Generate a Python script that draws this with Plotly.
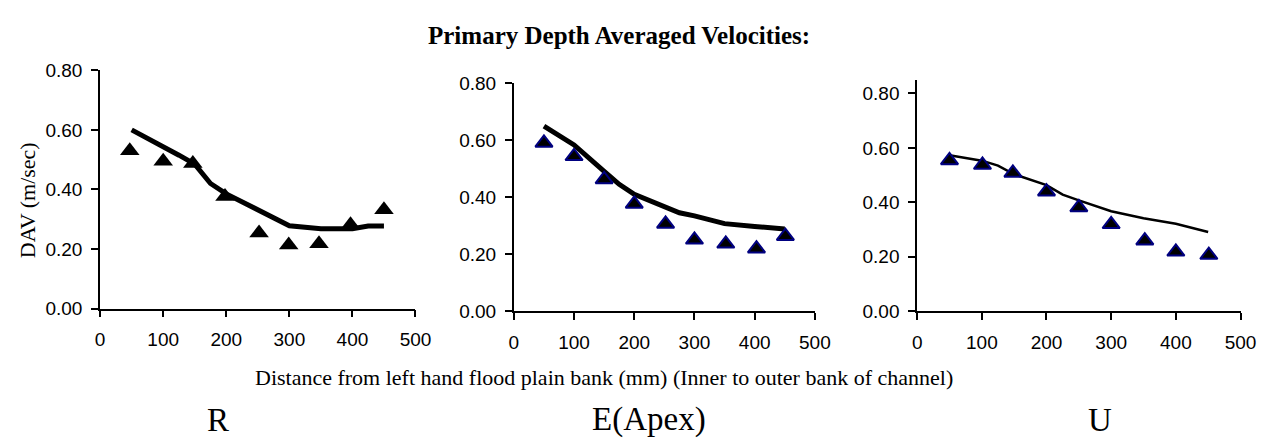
import plotly.graph_objects as go

W, H = 1287, 446

# Panel R
r_line_x = [50, 100, 125, 150, 175, 200, 250, 300, 350, 400, 425, 450]
r_line_y = [0.600, 0.545, 0.515, 0.485, 0.420, 0.385, 0.330, 0.278, 0.268, 0.268, 0.277, 0.277]
r_pts_x = [47, 100, 147, 198, 252, 299, 347, 397, 450]
r_pts_y = [0.530, 0.495, 0.487, 0.376, 0.254, 0.213, 0.218, 0.281, 0.332]

# Panel E(Apex)
e_line_x = [50, 100, 150, 175, 200, 250, 275, 300, 350, 400, 450]
e_line_y = [0.649, 0.583, 0.490, 0.445, 0.410, 0.365, 0.345, 0.334, 0.307, 0.297, 0.288]
e_pts_x = [50, 100, 150, 200, 252, 300, 352, 403, 451]
e_pts_y = [0.590, 0.543, 0.462, 0.376, 0.306, 0.250, 0.236, 0.219, 0.263]

# Panel U
u_line_x = [50, 100, 125, 150, 200, 225, 250, 300, 350, 400, 450]
u_line_y = [0.573, 0.553, 0.535, 0.503, 0.463, 0.428, 0.407, 0.367, 0.341, 0.321, 0.291]
u_pts_x = [50, 101, 148, 200, 250, 300, 352, 400, 451]
u_pts_y = [0.554, 0.537, 0.508, 0.439, 0.381, 0.319, 0.259, 0.218, 0.206]

x_ticks = [0, 100, 200, 300, 400, 500]
y_ticks = [0.0, 0.2, 0.4, 0.6, 0.8]

title_text = "<b>Primary Depth Averaged Velocities:</b>"
xlabel_text = "Distance from left hand flood plain bank (mm) (Inner to outer bank of channel)"
ylabel_text = "DAV (m/sec)"
panel_names = ["R", "E(Apex)", "U"]

SANS = "Liberation Sans, Arial, sans-serif"
SERIF = "Liberation Serif, Times New Roman, serif"


def px_x(p):
    return p / W


def px_y(p):
    return 1 - p / H


fig = go.Figure()

panels = [
    (r_line_x, r_line_y, r_pts_x, r_pts_y, 5, "black", 0, 17, "", ""),
    (e_line_x, e_line_y, e_pts_x, e_pts_y, 5, "#000080", 2, 15, "2", "2"),
    (u_line_x, u_line_y, u_pts_x, u_pts_y, 2.5, "#000080", 2, 15, "3", "3"),
]

for lx, ly, px_, py_, lw, mline, mlw, msz, xa, ya in panels:
    fig.add_trace(go.Scatter(x=lx, y=ly, mode="lines",
                             line=dict(color="black", width=lw),
                             xaxis="x" + xa, yaxis="y" + ya, showlegend=False))
    fig.add_trace(go.Scatter(x=px_, y=py_, mode="markers",
                             marker=dict(symbol="triangle-up", size=msz, color="black",
                                         line=dict(color=mline, width=mlw)),
                             xaxis="x" + xa, yaxis="y" + ya, showlegend=False))

# domains in pixel coordinates
doms = [
    ((96.7, 417.3), (313.3, 63.3), [0, 0.8]),
    ((517.3, 823.3), (316.0, 76.7), [0, 0.8]),
    ((927.3, 1256.0), (316.0, 73.3), [0, 0.85]),
]

axis_common = dict(showgrid=False, zeroline=False, showline=True, linecolor="black",
                   linewidth=1.8, ticks="outside", ticklen=7, tickwidth=1.8, tickcolor="black",
                   tickfont=dict(family=SANS, size=19, color="black"))

layout = dict(width=W, height=H, margin=dict(l=0, r=0, t=0, b=0),
              paper_bgcolor="white", plot_bgcolor="white")

for i, ((x0, x1), (y0, y1), yr) in enumerate(doms):
    suf = "" if i == 0 else str(i + 1)
    layout["xaxis" + suf] = dict(axis_common, domain=[px_x(x0), px_x(x1)], range=[0, 500],
                                 tickvals=x_ticks, anchor="y" + suf, ticklabelstandoff=6)
    layout["yaxis" + suf] = dict(axis_common, domain=[px_y(y0), px_y(y1)], range=yr,
                                 tickvals=y_ticks, tickformat=".2f", anchor="x" + suf,
                                 ticklabelstandoff=5)

fig.update_layout(**layout)

ann = [
    dict(text=title_text, x=px_x(624), y=px_y(27), font=dict(family=SERIF, size=25, color="black")),
    dict(text=xlabel_text, x=px_x(609), y=px_y(386), font=dict(family=SERIF, size=22, color="black")),
    dict(text=panel_names[0], x=px_x(217), y=px_y(430), font=dict(family=SERIF, size=33, color="black")),
    dict(text=panel_names[1], x=px_x(655), y=px_y(430), font=dict(family=SERIF, size=33, color="black")),
    dict(text=panel_names[2], x=px_x(1113), y=px_y(430), font=dict(family=SERIF, size=33, color="black")),
    dict(text=ylabel_text, x=px_x(23), y=px_y(200), textangle=-90,
         font=dict(family=SERIF, size=22, color="black")),
]
for a in ann:
    fig.add_annotation(xref="paper", yref="paper", xanchor="center", yanchor="middle",
                       showarrow=False, **a)

fig.write_html("out.html")
